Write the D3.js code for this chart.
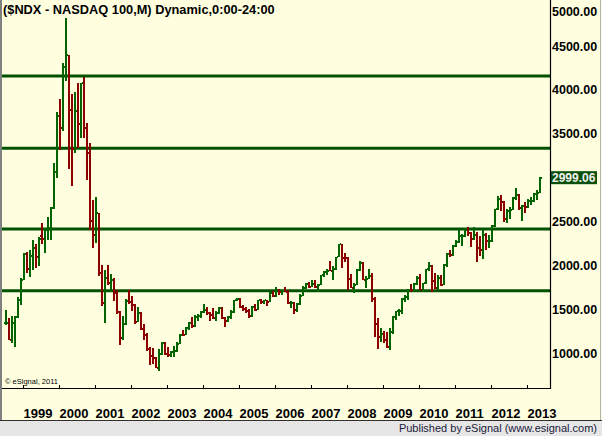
<!DOCTYPE html>
<html lang="en">
<head>
    <title>NDX - NASDAQ 100 monthly</title>
    <meta charset="utf-8"/>
    <script src="https://d3js.org/d3.v7.min.js"></script>
    <style>
        body { margin: 0; }
        text { font-family: Arial, "Liberation Sans", sans-serif; }
    </style>
</head>
<body>
<svg width="602" height="436"></svg>

<script type="text/javascript">

    // first bar is Jul 1998, counted in months from Jan 1999
    const firstMonth = -6;

    // monthly bars, Jul 1998 .. May 2013
    const opens = [
        1337, 1345, 1150, 1345, 1410, 1600,
        1836, 2128, 1961, 2106, 2199, 2090, 2330, 2300, 2400, 2425, 2650, 3060,
        3708, 3570, 4266, 4397, 3774, 3324, 3763, 3609, 4077, 3570, 3282, 2507,
        2342, 2593, 1908, 1573, 1855, 1800, 1830, 1683, 1469, 1168, 1330, 1596,
        1577, 1550, 1359, 1452, 1277, 1208, 1051, 962, 942, 832, 989, 1116,
        984, 982, 1009, 1018, 1106, 1205, 1201, 1285, 1347, 1303, 1416, 1421,
        1468, 1493, 1455, 1438, 1396, 1457, 1516, 1400, 1362, 1412, 1470, 1603,
        1621, 1519, 1504, 1483, 1417, 1529, 1493, 1605, 1581, 1601, 1586, 1686,
        1645, 1720, 1696, 1703, 1701, 1575, 1575, 1492, 1560, 1655, 1741, 1792,
        1756, 1787, 1758, 1772, 1887, 1928, 1934, 1932, 1959, 2092, 2238, 2086,
        2085, 1842, 1745, 1781, 1950, 2029, 1837, 1848, 1873, 1621, 1329, 1179,
        1212, 1146, 1064, 1237, 1406, 1475, 1478, 1620, 1640, 1720, 1716, 1789,
        1860, 1724, 1795, 1956, 1995, 1824, 1737, 1855, 1776, 2003, 2128, 2115,
        2217, 2268, 2330, 2339, 2404, 2372, 2295, 2350, 2196, 2180, 2351, 2273,
        2278, 2449, 2637, 2755, 2718, 2523, 2616, 2632, 2772, 2799, 2659, 2677,
        2661, 2731, 2738, 2818, 2829
    ];
    const highs = [
        1490, 1400, 1420, 1420, 1640, 1855,
        2140, 2155, 2175, 2290, 2240, 2325, 2480, 2425, 2555, 2660, 3170, 3750,
        3895, 4310, 4816, 4400, 3950, 3976, 4080, 4080, 4150, 3620, 3400, 2750,
        2780, 2600, 2000, 1950, 2000, 1900, 1860, 1720, 1480, 1420, 1620, 1720,
        1650, 1560, 1530, 1470, 1330, 1230, 1070, 1060, 960, 1040, 1130, 1120,
        1070, 1020, 1080, 1120, 1220, 1260, 1300, 1350, 1410, 1430, 1440, 1480,
        1560, 1530, 1470, 1510, 1480, 1520, 1520, 1410, 1420, 1490, 1610, 1630,
        1625, 1550, 1530, 1500, 1540, 1560, 1610, 1615, 1610, 1610, 1700, 1710,
        1750, 1730, 1720, 1750, 1720, 1590, 1580, 1570, 1670, 1760, 1800, 1810,
        1830, 1830, 1790, 1890, 1940, 1960, 2050, 1990, 2100, 2240, 2240, 2140,
        2090, 1900, 1800, 1960, 2050, 2040, 1880, 1960, 1915, 1640, 1400, 1280,
        1250, 1240, 1280, 1420, 1480, 1500, 1625, 1660, 1730, 1790, 1800, 1880,
        1900, 1800, 1960, 2040, 2000, 1910, 1890, 1890, 2010, 2140, 2180, 2230,
        2290, 2400, 2360, 2420, 2440, 2380, 2440, 2380, 2330, 2400, 2370, 2340,
        2460, 2640, 2795, 2800, 2730, 2640, 2660, 2780, 2880, 2810, 2690, 2720,
        2760, 2780, 2830, 2860, 3010
    ];
    const lows = [
        1320, 1150, 1114, 1070, 1400, 1547,
        1830, 1910, 1870, 1946, 1970, 1990, 2240, 2140, 2290, 2290, 2640, 3000,
        3315, 3530, 4100, 3100, 2900, 3280, 3337, 3450, 3450, 2970, 2400, 2200,
        2250, 1880, 1540, 1340, 1780, 1700, 1590, 1440, 1090, 1150, 1320, 1560,
        1480, 1330, 1350, 1260, 1150, 1020, 860, 880, 830, 795, 980, 975,
        960, 955, 960, 1010, 1100, 1190, 1200, 1260, 1290, 1300, 1370, 1400,
        1460, 1430, 1360, 1390, 1360, 1440, 1390, 1300, 1350, 1390, 1460, 1590,
        1510, 1480, 1460, 1400, 1410, 1480, 1490, 1560, 1560, 1540, 1580, 1640,
        1640, 1660, 1660, 1690, 1560, 1510, 1440, 1470, 1550, 1650, 1730, 1740,
        1750, 1740, 1700, 1770, 1870, 1890, 1930, 1830, 1950, 2090, 1970, 2040,
        1720, 1740, 1680, 1770, 1940, 1830, 1740, 1840, 1580, 1180, 1040, 1120,
        1110, 1060, 1036, 1220, 1380, 1420, 1440, 1580, 1610, 1690, 1700, 1780,
        1720, 1690, 1790, 1940, 1700, 1730, 1720, 1760, 1770, 1980, 2090, 2110,
        2210, 2250, 2220, 2320, 2330, 2210, 2290, 2040, 2110, 2070, 2170, 2200,
        2270, 2440, 2630, 2620, 2490, 2480, 2530, 2630, 2740, 2630, 2500, 2600,
        2650, 2690, 2720, 2740, 2829
    ];
    const closes = [
        1345, 1150, 1345, 1410, 1600, 1836,
        2128, 1961, 2106, 2199, 2090, 2297, 2300, 2400, 2425, 2650, 3060, 3708,
        3570, 4266, 4397, 3774, 3324, 3763, 3609, 4077, 3570, 3282, 2507, 2342,
        2593, 1908, 1573, 1855, 1800, 1830, 1683, 1469, 1168, 1330, 1596, 1577,
        1550, 1359, 1452, 1277, 1208, 1051, 962, 942, 832, 989, 1116, 984,
        982, 1009, 1018, 1106, 1205, 1201, 1285, 1347, 1303, 1416, 1421, 1468,
        1493, 1455, 1438, 1396, 1457, 1516, 1400, 1362, 1412, 1470, 1603, 1621,
        1519, 1504, 1483, 1417, 1529, 1493, 1605, 1581, 1601, 1586, 1686, 1645,
        1720, 1696, 1703, 1701, 1575, 1575, 1492, 1560, 1655, 1741, 1792, 1756,
        1787, 1758, 1772, 1887, 1928, 1934, 1932, 1959, 2092, 2238, 2086, 2085,
        1842, 1745, 1781, 1950, 2029, 1837, 1848, 1873, 1621, 1329, 1179, 1212,
        1146, 1064, 1237, 1406, 1475, 1478, 1620, 1640, 1720, 1716, 1789, 1860,
        1724, 1795, 1956, 1995, 1824, 1737, 1855, 1776, 2003, 2128, 2115, 2217,
        2268, 2330, 2339, 2404, 2372, 2295, 2350, 2196, 2180, 2351, 2273, 2278,
        2449, 2637, 2755, 2718, 2523, 2616, 2632, 2772, 2799, 2659, 2677, 2661,
        2731, 2738, 2818, 2829, 2999.06
    ];

    // tick labels
    const years = ["1999", "2000", "2001", "2002", "2003", "2004", "2005", "2006",
        "2007", "2008", "2009", "2010", "2011", "2012", "2013"];
    const priceTicks = [1000, 1500, 2000, 2500, 3500, 4000, 4500, 5000];

    // drawn horizontal levels
    const levels = [1710, 2414, 3334, 4158];

    const lastPrice = 2999.06;
    const title = "($NDX - NASDAQ 100,M) Dynamic,0:00-24:00";

    //colores
    const bg = "#ffffe0", up = "#006400", down = "#8c0000", lineGreen = "#005200";

    const svg = d3.select("svg");

    // escalas: x en meses desde ene 1999, y lineal en precio
    let x = d3.scaleLinear().domain([0, 168]).range([23, 527]);
    let y = d3.scaleLinear().domain([1000, 5000]).range([353, 2.2]);

    // fondo
    svg.append("rect").attr("width", 602).attr("height", 436).attr("fill", bg);
    svg.append("rect").attr("x", 0).attr("y", 421).attr("width", 602).attr("height", 15)
        .attr("fill", "#e6e6e6");
    svg.append("line").attr("x1", 0).attr("x2", 602).attr("y1", 420.5).attr("y2", 420.5)
        .attr("stroke", "#303030");
    svg.append("line").attr("x1", 1).attr("x2", 1).attr("y1", 0).attr("y2", 420)
        .attr("stroke", "#808080").attr("stroke-width", 2);
    svg.append("line").attr("x1", 600.5).attr("x2", 600.5).attr("y1", 0).attr("y2", 420)
        .attr("stroke", "#b0b0b0");

    // niveles horizontales
    svg.append("g").selectAll("line")
        .data(levels).enter()
        .append("line")
        .attr("x1", 2).attr("x2", 550)
        .attr("y1", d => y(d)).attr("y2", d => y(d))
        .attr("stroke", lineGreen)
        .attr("stroke-width", 3);

    // barras OHLC
    const bars = svg.append("g").attr("shape-rendering", "crispEdges");
    const idx = d3.range(closes.length);
    const col = i => closes[i] >= opens[i] ? up : down;

    bars.selectAll("rect.hl").data(idx).enter()
        .append("rect").attr("class", "hl")
        .attr("x", i => x(firstMonth + i))
        .attr("y", i => y(highs[i]))
        .attr("width", 2)
        .attr("height", i => y(lows[i]) - y(highs[i]))
        .attr("fill", col);

    bars.selectAll("rect.op").data(idx).enter()
        .append("rect").attr("class", "op")
        .attr("x", i => x(firstMonth + i) - 1)
        .attr("y", i => y(opens[i]) - 1)
        .attr("width", 1).attr("height", 2)
        .attr("fill", col);

    bars.selectAll("rect.cl").data(idx).enter()
        .append("rect").attr("class", "cl")
        .attr("x", i => x(firstMonth + i) + 2)
        .attr("y", i => y(closes[i]) - 1)
        .attr("width", 1).attr("height", 2)
        .attr("fill", col);

    // eje x
    let xAxis = d3.axisBottom(x)
        .tickValues(d3.range(0, 169, 12))
        .tickFormat((d, i) => years[i])
        .tickSize(-3)
        .tickPadding(21);

    svg.append("g")
        .attr("transform", "translate(0,388)")
        .style("font-size", "13px")
        .style("font-weight", "bold")
        .call(xAxis)
        .call(g => g.select(".domain").remove())
        .call(g => g.selectAll(".tick text").attr("text-anchor", "start").attr("x", 0).attr("fill", "#000"))
        .call(g => g.selectAll(".tick line").attr("stroke", "#000").attr("shape-rendering", "crispEdges"));

    // eje y a la derecha
    let yAxis = d3.axisRight(y)
        .tickValues(priceTicks)
        .tickFormat(d3.format(".2f"))
        .tickSize(0)
        .tickPadding(2);

    svg.append("g")
        .attr("transform", "translate(550,0)")
        .style("font-size", "12.5px")
        .style("font-weight", "bold")
        .call(yAxis)
        .call(g => g.select(".domain").remove())
        .call(g => g.selectAll(".tick text").attr("fill", "#000"))
        .call(g => g.selectAll(".tick").filter(d => d === 5000)
            .attr("transform", "translate(0,12)"));

    // marco del grafico
    svg.append("path")
        .attr("d", "M2,388.5H550.5V0")
        .attr("fill", "none")
        .attr("stroke", "#000")
        .attr("stroke-width", 1.2);

    // etiqueta del ultimo precio
    const py = y(lastPrice);
    svg.append("rect")
        .attr("x", 551).attr("y", py - 6.5)
        .attr("width", 46).attr("height", 13)
        .attr("fill", "#0a500a");
    svg.append("text")
        .attr("x", 552).attr("y", py)
        .attr("dy", "0.35em")
        .style("font-size", "12px")
        .style("font-weight", "bold")
        .attr("fill", "#f0f0f0")
        .text(d3.format(".2f")(lastPrice));

    // titulo y textos
    svg.append("text")
        .attr("x", 3).attr("y", 14)
        .style("font-size", "12.8px")
        .style("font-weight", "bold")
        .attr("fill", "#000")
        .text(title);

    svg.append("text")
        .attr("x", 5).attr("y", 384)
        .style("font-size", "7.5px")
        .attr("fill", "#000")
        .text("\u00a9 eSignal, 2011");

    svg.append("text")
        .attr("x", 597).attr("y", 432)
        .attr("text-anchor", "end")
        .style("font-size", "11px")
        .attr("fill", "#1a1a3a")
        .text("Published by eSignal (www.esignal.com)");

</script>
</body>
</html>
